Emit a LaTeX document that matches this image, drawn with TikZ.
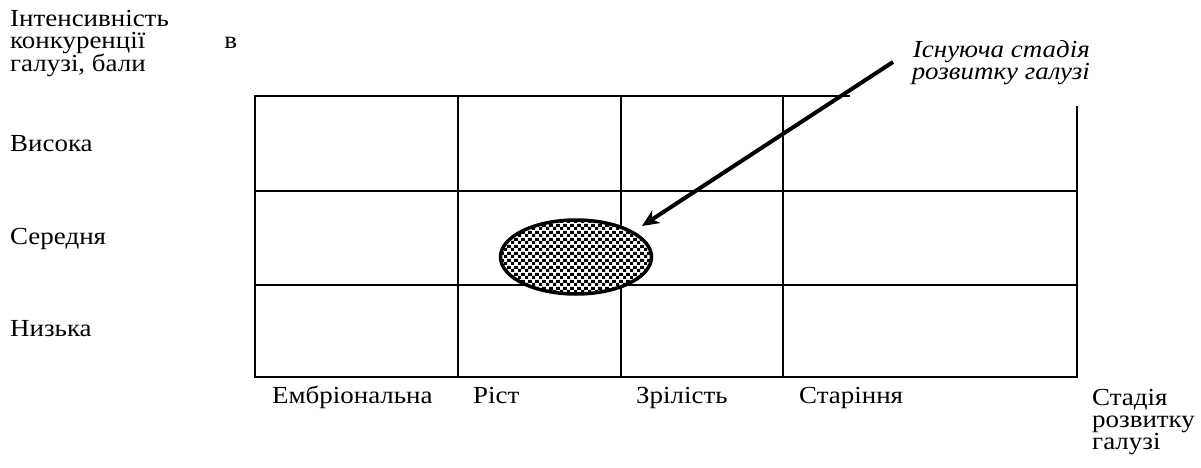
\documentclass[tikz,border=0pt]{standalone}
\usepackage{fontspec}
\setmainfont{Liberation Serif}[FakeStretch=1.1]
\usetikzlibrary{arrows.meta, shapes.geometric, patterns.meta}

\tikzdeclarepattern{
  name=stagechk,
  type=colored,
  bounding box={(0pt,0pt) and (7pt,7pt)},
  tile size={(7pt,7pt)},
  code={
    \fill[black] (0pt,0pt) rectangle (3.5pt,3.5pt);
    \fill[black] (3.5pt,3.5pt) rectangle (7pt,7pt);
  }
}

\begin{document}
\begin{tikzpicture}[x=1pt, y=-1pt,
  g/.style={line width=1.6pt},
  t/.style={anchor=base west, inner sep=0pt, align=left},
  ti/.style={anchor=base east, inner sep=0pt, align=right, font=\fontsize{24.5pt}{22pt}\selectfont\itshape},
  stage/.style={ellipse, draw, line width=3.5pt, minimum width=151pt, minimum height=74pt,
    inner sep=0pt, fill=white, postaction={pattern=stagechk}},
  e/.style={-{Stealth[length=17pt, width=15pt, inset=5pt]}, line width=4pt},
  font=\fontsize{24.5pt}{22pt}\selectfont]
  \useasboundingbox (0,0) rectangle (1201,468);
  % grid
  \draw[g] (850,96) -- (255,96) -- (255,377) -- (1077,377) -- (1077,106);
  \foreach \xc in {458,621,783}
    \draw[g] (\xc,96) -- (\xc,377);
  \foreach \yc in {191,285}
    \draw[g] (255,\yc) -- (1077,\yc);
  % axis labels (base = last line)
  \node[t] (yax) at (10,72) {Інтенсивність\\ \makebox[227pt][l]{конкуренції\hfill в}\\ галузі, бали};
  \node[t] (hi)  at (10,151) {Висока};
  \node[t] (mid) at (10,244) {Середня};
  \node[t] (lo)  at (10,336) {Низька};
  \node[t] (s1) at (272,403) {Ембріональна};
  \node[t] (s2) at (473,403) {Ріст};
  \node[t] (s3) at (636,403) {Зрілість};
  \node[t] (s4) at (799,403) {Старіння};
  \node[t] (xax) at (1092,449) {Стадія\\ розвитку\\ галузі};
  % current stage
  \node[stage] (cur) at (576,257) {};
  \node[ti] (curlbl) at (1090,80) {Існуюча стадія\\ розвитку галузі};
  \coordinate (pfrom) at (893,62);
  \coordinate (pto) at (642,226);
  \draw[e] (pfrom) -- (pto);
\end{tikzpicture}
\end{document}
